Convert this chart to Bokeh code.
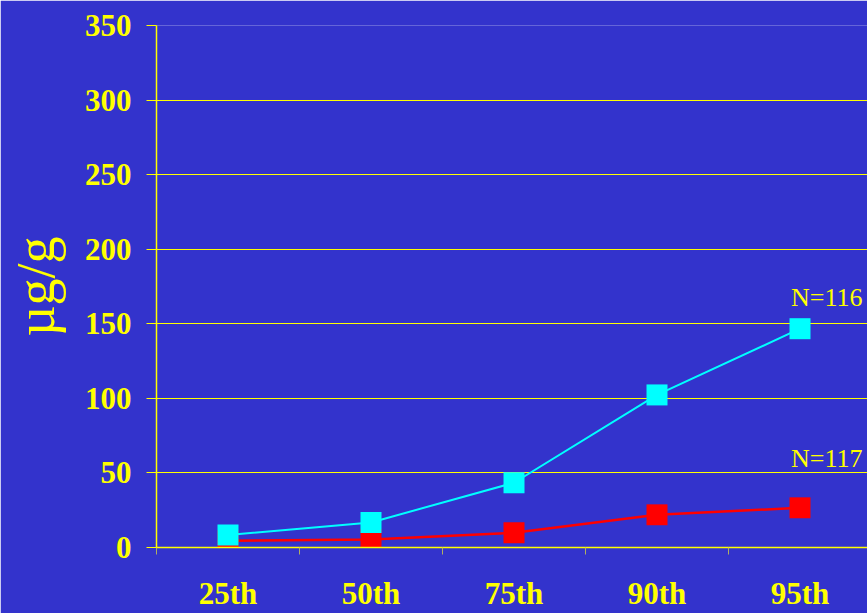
from bokeh.plotting import figure
from bokeh.models import ColumnDataSource, FixedTicker, Range1d
from bokeh.core.properties import value
from bokeh.embed import file_html
from bokeh.resources import INLINE

# Percentile categories and concentrations (µg/g)
categories = ["25th", "50th", "75th", "90th", "95th"]
series_high = [8.4, 16.8, 43.4, 102.3, 146.7]   # N=116
series_low = [4.5, 5.4, 9.9, 21.9, 26.6]        # N=117
y_ticks = [0, 50, 100, 150, 200, 250, 300, 350]
n_labels = ["N=116", "N=117"]

BG = "#3333CC"
YELLOW = "#FFFF00"
SERIF = "Liberation Serif"

x_pos = [i + 0.5 for i in range(len(categories))]

p = figure(width=867, height=613, output_backend="svg", toolbar_location=None,
           x_range=Range1d(0, 4.972), y_range=Range1d(0, 350),
           min_border_left=156, min_border_right=0, min_border_top=25,
           min_border_bottom=66)
p.background_fill_color = BG
p.border_fill_color = BG
p.outline_line_color = None

# y axis
p.yaxis.ticker = FixedTicker(ticks=y_ticks)
p.yaxis.axis_line_color = YELLOW
p.yaxis.axis_line_width = 1.5
p.yaxis.major_tick_line_color = YELLOW
p.yaxis.major_tick_in = 0
p.yaxis.major_tick_out = 10
p.yaxis.minor_tick_line_color = None
p.yaxis.major_label_standoff = 15
p.yaxis.major_label_text_color = YELLOW
p.yaxis.major_label_text_font = SERIF
p.yaxis.major_label_text_font_style = "bold"
p.yaxis.major_label_text_font_size = "31px"
p.yaxis.axis_label = "µg/g"
p.yaxis.axis_label_text_color = YELLOW
p.yaxis.axis_label_text_font = SERIF
p.yaxis.axis_label_text_font_style = "normal"
p.yaxis.axis_label_text_font_size = "54px"
p.yaxis.axis_label_standoff = 16

# x axis: labels at category centres, tick marks at category boundaries
p.xaxis.ticker = FixedTicker(ticks=x_pos, minor_ticks=[0, 1, 2, 3, 4])
p.xaxis.major_label_overrides = {x: c for x, c in zip(x_pos, categories)}
p.xaxis.axis_line_color = YELLOW
p.xaxis.axis_line_width = 1.5
p.xaxis.major_tick_line_color = None
p.xaxis.minor_tick_line_color = "#B0B060"
p.xaxis.minor_tick_in = 0
p.xaxis.minor_tick_out = 7
p.xaxis.major_tick_out = 0
p.xaxis.major_label_standoff = 21
p.xaxis.major_label_text_color = YELLOW
p.xaxis.major_label_text_font = SERIF
p.xaxis.major_label_text_font_style = "bold"
p.xaxis.major_label_text_font_size = "31px"

p.xgrid.grid_line_color = None
p.ygrid.ticker = FixedTicker(ticks=y_ticks)
p.ygrid.grid_line_color = YELLOW
p.ygrid.grid_line_width = 1

src_low = ColumnDataSource(dict(x=x_pos, y=series_low))
src_high = ColumnDataSource(dict(x=x_pos, y=series_high))

p.line("x", "y", source=src_low, line_color="#FF0000", line_width=2.5)
p.scatter("x", "y", source=src_low, marker="square", size=21,
          fill_color="#FF0000", line_color=None)
p.line("x", "y", source=src_high, line_color="#00FFFF", line_width=2)
p.scatter("x", "y", source=src_high, marker="square", size=21,
          fill_color="#00FFFF", line_color=None)

# sample-size notes above the last point of each series
p.text(x=[x_pos[-1], x_pos[-1]], y=[series_high[-1], series_low[-1]],
       text=n_labels, x_offset=-9, y_offset=[-17, -35],
       text_color=YELLOW, text_font=value(SERIF), text_font_size="26px",
       text_align="left", text_baseline="bottom")

open("out.html", "w").write(file_html(p, INLINE))
